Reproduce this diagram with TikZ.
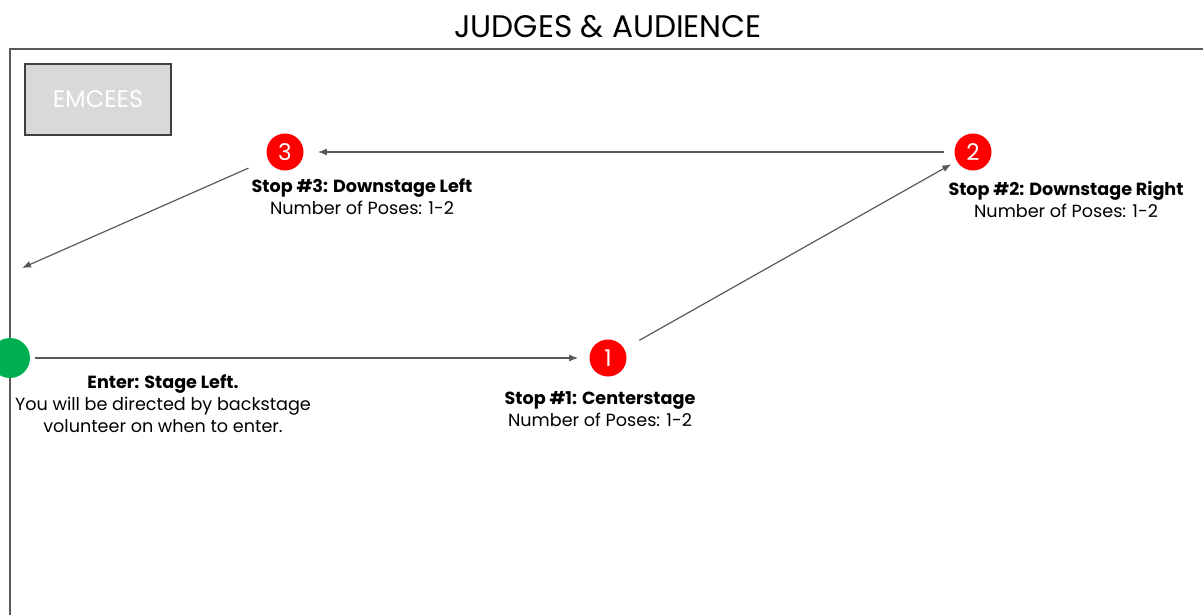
\documentclass[tikz,border=0pt]{standalone}
\usepackage{fontspec}
\setmainfont{Poppins}
\usetikzlibrary{arrows.meta}
\definecolor{stopred}{HTML}{FF0000}
\definecolor{entergreen}{HTML}{00B050}
\definecolor{framegray}{HTML}{5A5A5A}
\definecolor{boxgray}{HTML}{D9D9D9}
\begin{document}
\begin{tikzpicture}[x=0.5pt,y=-0.5pt,
  stopdot/.style={circle,fill=stopred,draw=none,minimum size=18.5pt,inner sep=0pt,text=white,font=\fontsize{11.5}{13}\selectfont},
  enterdot/.style={circle,fill=entergreen,draw=none,minimum size=20pt,inner sep=0pt},
  lbl/.style={align=center,inner sep=0pt,font=\fontsize{8.8}{11}\selectfont},
  path/.style={draw=black!65,line width=0.6pt,-{Latex[length=4.5pt,width=3.5pt]}}
]
\useasboundingbox (0,0) rectangle (1203,615);
% stage frame
\draw[framegray,line width=1.1pt] (10,615) -- (10,49) -- (1203,49);
% title
\node[font=\fontsize{15.6}{18}\selectfont,inner sep=0pt] (title) at (608,27) {JUDGES \& AUDIENCE};
% emcees box
\node[draw=black!75,fill=boxgray,line width=0.7pt,minimum width=73pt,minimum height=35.5pt,inner sep=0pt,text=white,font=\fontsize{12}{14}\selectfont] (emcees) at (98,99.5) {EMCEES};
% dots
\node[enterdot] (g) at (10,358) {};
\node[stopdot] (s1) at (608,358) {1};
\node[stopdot] (s2) at (973,152) {2};
\node[stopdot] (s3) at (285,152) {3};
\coordinate (exit) at (22,268);
% labels
\node[lbl] (l3) at (362,197) {\textbf{Stop \#3: Downstage Left}\\Number of Poses: 1-2};
\node[lbl] (l2) at (1066,200) {\textbf{Stop \#2: Downstage Right}\\Number of Poses: 1-2};
\node[lbl] (l1) at (600,409) {\textbf{Stop \#1: Centerstage}\\Number of Poses: 1-2};
\node[lbl] (lg) at (163,404) {\textbf{Enter: Stage Left.}\\You will be directed by backstage\\volunteer on when to enter.};
% arrows
\draw[path,shorten <=2.5pt,shorten >=5.5pt] (g) -- (s1);
\draw[path,shorten <=8.5pt,shorten >=3pt] (s1) -- (s2);
\draw[path,shorten <=5pt,shorten >=7pt] (s2) -- (s3);
\draw[path,shorten <=10.5pt] (s3) -- (exit);
\end{tikzpicture}
\end{document}
